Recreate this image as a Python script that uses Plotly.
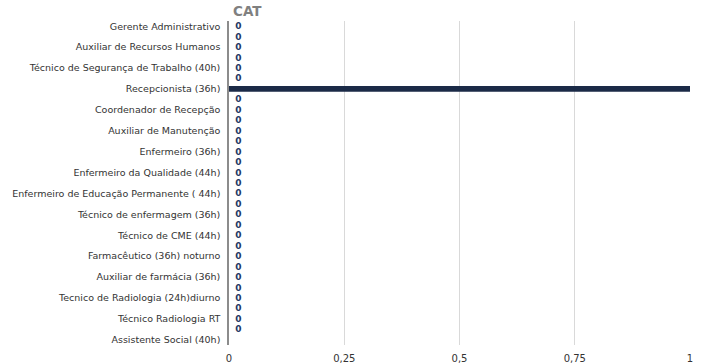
import plotly.graph_objects as go

# Category labels (top to bottom); None = category whose label is not displayed
categories = [
    "Gerente Administrativo", None,
    "Auxiliar de Recursos Humanos", None,
    "Técnico de Segurança de Trabalho (40h)", None,
    "Recepcionista (36h)", None,
    "Coordenador de Recepção", None,
    "Auxiliar de Manutenção", None,
    "Enfermeiro (36h)", None,
    "Enfermeiro da Qualidade (44h)", None,
    "Enfermeiro de Educação Permanente ( 44h)", None,
    "Técnico de enfermagem (36h)", None,
    "Técnico de CME (44h)", None,
    "Farmacêutico (36h) noturno", None,
    "Auxiliar de farmácia (36h)", None,
    "Tecnico de Radiologia (24h)diurno", None,
    "Técnico Radiologia RT", None,
    "Assistente Social (40h)",
]
values = [0, 0, 0, 0, 0, 0, 1, 0, 0, 0, 0, 0, 0, 0, 0, 0,
          0, 0, 0, 0, 0, 0, 0, 0, 0, 0, 0, 0, 0, 0, None]
x_ticks = [0, 0.25, 0.5, 0.75, 1]
x_ticklabels = ["0", "0,25", "0,5", "0,75", "1"]
title_text = "CAT"

positions = list(range(len(categories)))
text_labels = ["" if v is None else f"{v:g}" for v in values]

fig = go.Figure(go.Bar(
    x=values, y=positions, orientation="h",
    marker=dict(color="#1b2a47", line=dict(width=0)),
    width=0.55,
    text=text_labels, texttemplate="\u00a0\u00a0%{text}",
    textposition="outside", constraintext="none",
    textfont=dict(family="DejaVu Sans", size=9, color="#1f3864", weight="bold"),
))

fig.update_layout(
    width=701, height=364,
    margin=dict(l=229, r=11, t=21, b=19),
    paper_bgcolor="white", plot_bgcolor="white",
    showlegend=False,
    separators=",.",
    font=dict(family="DejaVu Sans", size=9.5, color="#333333"),
    xaxis=dict(
        range=[0, 1], tickvals=x_ticks, ticktext=x_ticklabels,
        showgrid=True, gridcolor="#d9d9d9", gridwidth=1,
        zeroline=False, showline=False, automargin=False,
        tickfont=dict(family="DejaVu Sans", size=10, color="#333333"),
        ticks="", ticklabelstandoff=6,
    ),
    yaxis=dict(
        range=[len(categories) - 0.5, -0.5],
        tickvals=[p for p, c in zip(positions, categories) if c],
        ticktext=[c for c in categories if c],
        showgrid=False, zeroline=False, automargin=False,
        showline=True, linecolor="#8c8c8c", linewidth=1.5,
        ticks="", ticklabelstandoff=5,
        tickfont=dict(family="DejaVu Sans", size=9.5, color="#333333"),
    ),
    annotations=[dict(
        text=f"<b>{title_text}</b>", xref="paper", yref="paper",
        x=0, y=1, xanchor="left", yanchor="bottom", xshift=2, yshift=0,
        showarrow=False,
        font=dict(family="DejaVu Sans", size=13.5, color="#808080"),
    )],
)

fig.write_html("out.html")
